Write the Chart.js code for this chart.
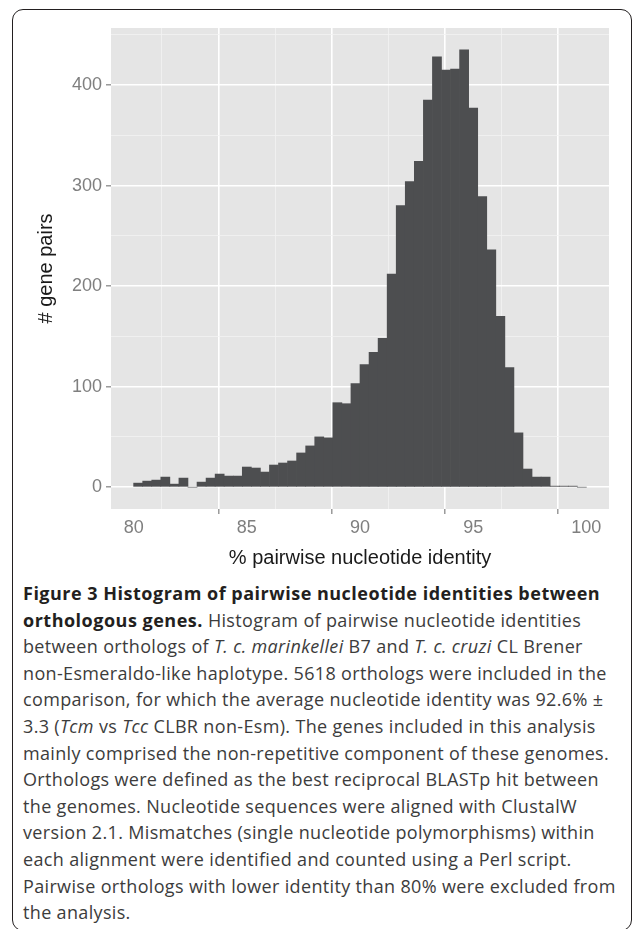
<!DOCTYPE html>
<html>
<head>
<meta charset="utf-8">
<script src="https://cdn.jsdelivr.net/npm/chart.js@4.4.1/dist/chart.umd.min.js"></script>
<style>
  body { margin: 0; background: #fff; width: 632px; height: 929px; overflow: hidden; position: relative; }
  .frame {
    position: absolute; left: 12px; top: 9px; width: 620px; height: 922px;
    box-sizing: border-box; border: 1.6px solid #231f20; border-radius: 11px;
  }
  #wrap { position: absolute; left: 0; top: 0; width: 632px; height: 570px; }
  .caption {
    position: absolute; left: 23px; top: 580px;
    font-family: "Open Sans", sans-serif; font-size: 18px; line-height: 26.6px;
    letter-spacing: 0.34px; color: #3c3c3c; white-space: nowrap;
  }
  .caption b { color: #231f20; font-weight: 700; letter-spacing: 0.5px; }
</style>
</head>
<body>
<div class="frame"></div>
<div id="wrap"><canvas id="hist" width="632" height="570"></canvas></div>
<div class="caption">
  <div><b>Figure 3 Histogram of pairwise nucleotide identities between</b></div>
  <div><b>orthologous genes.</b> Histogram of pairwise nucleotide identities</div>
  <div>between orthologs of <i>T. c. marinkellei</i> B7 and <i>T. c. cruzi</i> CL Brener</div>
  <div>non-Esmeraldo-like haplotype. 5618 orthologs were included in the</div>
  <div>comparison, for which the average nucleotide identity was 92.6% ±</div>
  <div>3.3 (<i>Tcm</i> vs <i>Tcc</i> CLBR non-Esm). The genes included in this analysis</div>
  <div>mainly comprised the non-repetitive component of these genomes.</div>
  <div>Orthologs were defined as the best reciprocal BLASTp hit between</div>
  <div>the genomes. Nucleotide sequences were aligned with ClustalW</div>
  <div>version 2.1. Mismatches (single nucleotide polymorphisms) within</div>
  <div>each alignment were identified and counted using a Perl script.</div>
  <div>Pairwise orthologs with lower identity than 80% were excluded from</div>
  <div>the analysis.</div>
</div>
<script>
// left edge of each identity bin (%), bins are 0.4 wide
var binStarts = [80.0, 80.4, 80.8, 81.2, 81.6, 82.0, 82.4, 82.8, 83.2, 83.6,
                 84.0, 84.4, 84.8, 85.2, 85.6, 86.0, 86.4, 86.8, 87.2, 87.6,
                 88.0, 88.4, 88.8, 89.2, 89.6, 90.0, 90.4, 90.8, 91.2, 91.6,
                 92.0, 92.4, 92.8, 93.2, 93.6, 94.0, 94.4, 94.8, 95.2, 95.6,
                 96.0, 96.4, 96.8, 97.2, 97.6, 98.0, 98.4, 98.8, 99.2, 99.6];
var binWidth = 0.4;

// number of gene pairs per bin
var counts = [4, 6, 7, 10, 3, 9, 0, 5, 9, 13,
              11, 11, 20, 19, 15, 22, 24, 26, 34, 41,
              50, 49, 84, 83, 103, 122, 134, 148, 212, 280,
              304, 324, 385, 428, 415, 416, 435, 377, 289, 236,
              170, 119, 54, 18, 10, 10, 1, 1, 1, 0];

var xTicks = [80, 85, 90, 95, 100];
var xMinor = [82.5, 87.5, 92.5, 97.5];
var yTicks = [0, 100, 200, 300, 400];
var yMinor = [50, 150, 250, 350, 450];

var points = binStarts.map(function (s, i) {
    return { x: s + binWidth / 2, y: counts[i] };
});

// grey panel behind the grid
var panelBg = {
    id: 'panelBg',
    beforeDraw: function (chart) {
        var a = chart.chartArea, c = chart.ctx;
        c.save();
        c.fillStyle = '#e5e5e5';
        c.fillRect(a.left, a.top, a.right - a.left, a.bottom - a.top);
        c.restore();
    }
};

function gridFor(major) {
    function isMajor(ctx) { return ctx.tick && major.includes(ctx.tick.value); }
    return {
        color: function (ctx) { return isMajor(ctx) ? '#ffffff' : '#f2f2f2'; },
        lineWidth: function (ctx) { return isMajor(ctx) ? 1.6 : 0.8; },
        tickColor: function (ctx) { return isMajor(ctx) ? '#8a8a8a' : 'rgba(0,0,0,0)'; },
        tickWidth: 1.3,
        tickLength: 5,
        drawTicks: true
    };
}

var tickFont = { family: '"Liberation Sans", Arial, sans-serif', size: 18 };
var titleFont = { family: '"Liberation Sans", Arial, sans-serif', size: 20 };

new Chart(document.getElementById('hist'), {
    type: 'bar',
    data: {
        datasets: [{
            data: points,
            backgroundColor: '#4d4e50',
            borderWidth: 0,
            barPercentage: 1.0,
            categoryPercentage: 1.0
        }]
    },
    plugins: [panelBg],
    options: {
        responsive: false,
        animation: false,
        layout: { padding: { left: 0, top: 28, right: 23, bottom: 0 } },
        plugins: { legend: { display: false }, tooltip: { enabled: false } },
        scales: {
            x: {
                type: 'linear',
                min: 79,
                max: 101,
                offset: false,
                border: { display: false },
                grid: gridFor(xTicks),
                afterBuildTicks: function (scale) {
                    scale.ticks = xTicks.concat(xMinor).sort(function (a, b) { return a - b; })
                        .map(function (v) { return { value: v }; });
                },
                afterFit: function (scale) { scale.height = 61; },
                ticks: {
                    autoSkip: false,
                    maxRotation: 0,
                    padding: 3,
                    color: '#7f7f7f',
                    font: tickFont,
                    callback: function (v) { return xTicks.includes(v) ? String(v) : ''; }
                },
                title: {
                    display: true,
                    text: '% pairwise nucleotide identity',
                    color: '#1a1a1a',
                    font: titleFont,
                    padding: { top: 0, bottom: 0 }
                }
            },
            y: {
                type: 'linear',
                min: -21.75,
                max: 456.75,
                border: { display: false },
                grid: gridFor(yTicks),
                afterBuildTicks: function (scale) {
                    scale.ticks = yTicks.concat(yMinor).sort(function (a, b) { return a - b; })
                        .map(function (v) { return { value: v }; });
                },
                afterFit: function (scale) { scale.width = 111; },
                ticks: {
                    autoSkip: false,
                    padding: 4,
                    color: '#7f7f7f',
                    font: tickFont,
                    callback: function (v) { return yTicks.includes(v) ? String(v) : ''; }
                },
                title: {
                    display: true,
                    text: '# gene pairs',
                    color: '#1a1a1a',
                    font: titleFont,
                    padding: { top: 34, bottom: 0 }
                }
            }
        }
    }
});
</script>
</body>
</html>
